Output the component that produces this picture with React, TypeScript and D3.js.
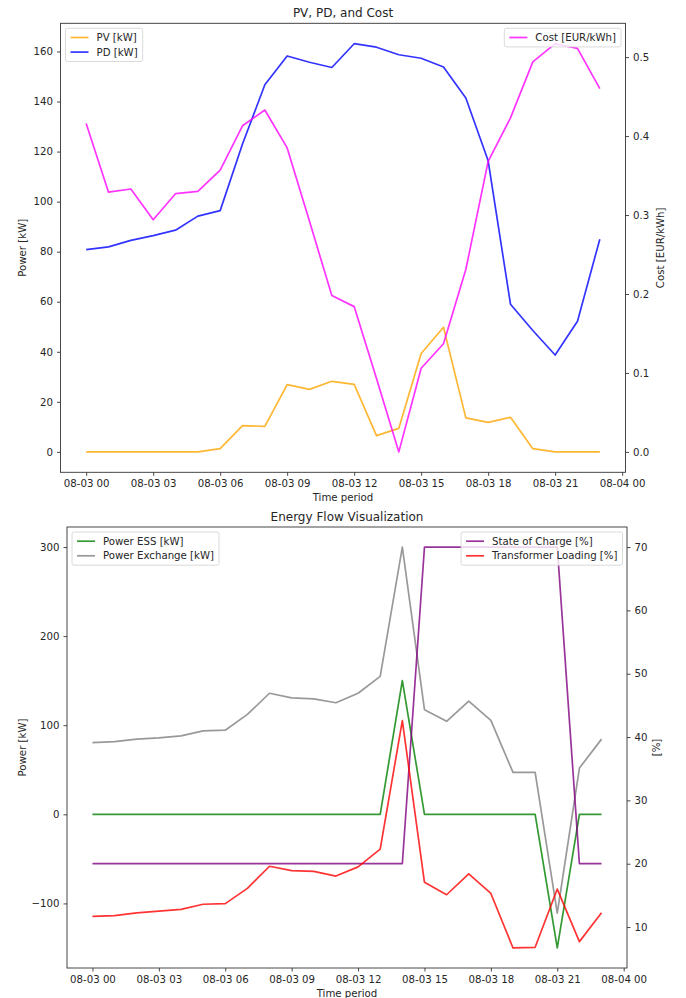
import React, { useRef, useEffect } from "react";
import * as d3 from "d3";

// hour index 0..23 on 08-03
const hours = [0, 1, 2, 3, 4, 5, 6, 7, 8, 9, 10, 11, 12, 13, 14, 15, 16, 17, 18, 19, 20, 21, 22, 23];
const xTicks = [0, 3, 6, 9, 12, 15, 18, 21, 24];
const xTickLabels = ["08-03 00", "08-03 03", "08-03 06", "08-03 09", "08-03 12", "08-03 15", "08-03 18", "08-03 21", "08-04 00"];

const pv = [0, 0, 0, 0, 0, 0, 1.3, 10.5, 10.2, 26.9, 25.0, 28.2, 27.0, 6.5, 9.4, 39.3, 49.8, 13.6, 11.8, 13.8, 1.3, 0, 0, 0];
const pd = [80.8, 81.9, 84.5, 86.4, 88.6, 94.2, 96.4, 123, 146.7, 158.2, 155.7, 153.6, 163.1, 161.7, 158.7, 157.3, 153.8, 141.4, 116.3, 59, 48.5, 38.7, 52.2, 85];
const cost = [0.416, 0.329, 0.333, 0.294, 0.327, 0.33, 0.357, 0.413, 0.433, 0.385, 0.292, 0.198, 0.184, 0.093, 0, 0.106, 0.137, 0.231, 0.368, 0.423, 0.494, 0.517, 0.511, 0.46];

const essPower = [0, 0, 0, 0, 0, 0, 0, 0, 0, 0, 0, 0, 0, 0, 150, 0, 0, 0, 0, 0, 0, -150, 0, 0];
const exchange = [80.4, 81.5, 84.4, 85.9, 88.1, 93.7, 94.4, 112.2, 135.9, 130.7, 129.6, 125.2, 135.9, 154.8, 300, 117.4, 104.4, 127, 105.5, 47, 47, -111, 51.9, 84.4];
const soc = [20, 20, 20, 20, 20, 20, 20, 20, 20, 20, 20, 20, 20, 20, 20, 70, 70, 70, 70, 70, 70, 70, 20, 20];
const loading = [11.7, 11.8, 12.25, 12.5, 12.8, 13.6, 13.7, 16.1, 19.6, 18.9, 18.8, 18.05, 19.5, 22.3, 42.6, 17.06, 15.1, 18.4, 15.3, 6.7, 6.8, 16.0, 7.7, 12.25];

const topLeftTicks = [0, 20, 40, 60, 80, 100, 120, 140, 160];
const topRightTicks = [0, 0.1, 0.2, 0.3, 0.4, 0.5];
const botLeftTicks = [-100, 0, 100, 200, 300];
const botRightTicks = [10, 20, 30, 40, 50, 60, 70];

const FONT = "DejaVu Sans, sans-serif";
const TEXT = "#262626";
const LW = 1.7;

// matplotlib-like autoscale with 5% margins
const padded = (arrs) => {
  const all = arrs.flat();
  const lo = d3.min(all), hi = d3.max(all);
  const m = (hi - lo) * 0.05;
  return [lo - m, hi + m];
};

function styleAxis(g) {
  g.select(".domain").remove();
  g.selectAll("line").attr("stroke", "#333").attr("stroke-width", 0.9);
  g.selectAll("text").attr("fill", TEXT).style("font-family", FONT).style("font-size", "10.2px");
}

function drawLegend(g, entries, anchor, box) {
  const lg = g.append("g");
  const bg = lg.append("rect").attr("rx", 2).attr("fill", "white").attr("fill-opacity", 0.8)
    .attr("stroke", "#d0d0d0").attr("stroke-width", 0.8);
  let maxW = 0;
  entries.forEach((e, i) => {
    const cy = 9.2 + i * 14.6;
    lg.append("line").attr("x1", 5).attr("x2", 23).attr("y1", cy).attr("y2", cy)
      .attr("stroke", e.color).attr("stroke-width", LW).attr("stroke-opacity", 0.8);
    const t = lg.append("text").attr("x", 31).attr("y", cy).attr("dy", "0.35em")
      .attr("fill", TEXT).style("font-family", FONT).style("font-size", "10.2px").text(e.label);
    maxW = Math.max(maxW, t.node().getComputedTextLength());
  });
  const w = 31 + maxW + 5;
  const h = 4 + entries.length * 14.6;
  bg.attr("width", w).attr("height", h);
  const x = anchor === "left" ? box.x0 + 5 : box.x1 - 4.5 - w;
  lg.attr("transform", `translate(${x}, ${box.y0 + 5})`);
}

function drawPanel(svg, p) {
  const { box } = p;
  const g = svg.append("g");
  const x = d3.scaleLinear().domain([-1.15, 24.15]).range([box.x0, box.x1]);
  const yL = d3.scaleLinear().domain(padded(p.left.map((s) => s.values))).range([box.y1, box.y0]);
  const yR = d3.scaleLinear().domain(padded(p.right.map((s) => s.values))).range([box.y1, box.y0]);

  g.append("text").attr("x", (box.x0 + box.x1) / 2).attr("y", box.y0 - 6.5).attr("text-anchor", "middle")
    .attr("fill", TEXT).style("font-family", FONT).style("font-size", "12px").text(p.title);

  const line = (yScale) => d3.line().x((d, i) => x(hours[i])).y((d) => yScale(d));

  p.left.forEach((s) => {
    g.append("path").datum(s.values).attr("d", line(yL)).attr("fill", "none")
      .attr("stroke", s.color).attr("stroke-width", LW).attr("stroke-opacity", 0.8)
      .attr("stroke-linejoin", "round");
  });
  drawLegend(g, p.left, "left", box);
  p.right.forEach((s) => {
    g.append("path").datum(s.values).attr("d", line(yR)).attr("fill", "none")
      .attr("stroke", s.color).attr("stroke-width", LW).attr("stroke-opacity", 0.8)
      .attr("stroke-linejoin", "round");
  });
  drawLegend(g, p.right, "right", box);

  // spines
  g.append("rect").attr("x", box.x0).attr("y", box.y0).attr("width", box.x1 - box.x0)
    .attr("height", box.y1 - box.y0).attr("fill", "none").attr("stroke", "#333").attr("stroke-width", 0.9);

  g.append("g").attr("transform", `translate(0, ${box.y1})`)
    .call(d3.axisBottom(x).tickValues(xTicks).tickSize(3.5).tickPadding(4)
      .tickFormat((d, i) => xTickLabels[i]))
    .call(styleAxis);

  g.append("g").attr("transform", `translate(${box.x0}, 0)`)
    .call(d3.axisLeft(yL).tickValues(p.leftTicks).tickSize(3.5).tickPadding(4)
      .tickFormat((d) => (d < 0 ? "\u2212" + Math.abs(d) : String(d))))
    .call(styleAxis);

  g.append("g").attr("transform", `translate(${box.x1}, 0)`)
    .call(d3.axisRight(yR).tickValues(p.rightTicks).tickSize(3.5).tickPadding(4).tickFormat(p.rightFormat))
    .call(styleAxis);

  const yc = (box.y0 + box.y1) / 2;
  g.append("text").attr("transform", `translate(${p.leftLabelX}, ${yc}) rotate(-90)`)
    .attr("text-anchor", "middle").attr("dy", "0.35em").attr("fill", TEXT)
    .style("font-family", FONT).style("font-size", "10.2px").text(p.leftLabel);
  g.append("text").attr("transform", `translate(${p.rightLabelX}, ${yc}) rotate(-90)`)
    .attr("text-anchor", "middle").attr("dy", "0.35em").attr("fill", TEXT)
    .style("font-family", FONT).style("font-size", "10.2px").text(p.rightLabel);
  g.append("text").attr("x", (box.x0 + box.x1) / 2).attr("y", box.y1 + 29).attr("text-anchor", "middle")
    .attr("fill", TEXT).style("font-family", FONT).style("font-size", "10.2px").text("Time period");
}

const App = () => {
  const svgRef = useRef(null);

  useEffect(() => {
    document.body.style.margin = "0";
    const svg = d3.select(svgRef.current);
    svg.selectAll("*").remove();

    drawPanel(svg, {
      title: "PV, PD, and Cost",
      box: { x0: 60.5, x1: 625.5, y0: 23.3, y1: 472.3 },
      left: [
        { label: "PV [kW]", color: "orange", values: pv },
        { label: "PD [kW]", color: "blue", values: pd },
      ],
      right: [{ label: "Cost [EUR/kWh]", color: "magenta", values: cost }],
      leftTicks: topLeftTicks,
      rightTicks: topRightTicks,
      rightFormat: d3.format(".1f"),
      leftLabel: "Power [kW]",
      rightLabel: "Cost [EUR/kWh]",
      leftLabelX: 22,
      rightLabelX: 660,
    });

    drawPanel(svg, {
      title: "Energy Flow Visualization",
      box: { x0: 67, x1: 627, y0: 527, y1: 968 },
      left: [
        { label: "Power ESS [kW]", color: "green", values: essPower },
        { label: "Power Exchange [kW]", color: "gray", values: exchange },
      ],
      right: [
        { label: "State of Charge [%]", color: "purple", values: soc },
        { label: "Transformer Loading [%]", color: "red", values: loading },
      ],
      leftTicks: botLeftTicks,
      rightTicks: botRightTicks,
      rightFormat: (d) => String(d),
      leftLabel: "Power [kW]",
      rightLabel: "[%]",
      leftLabelX: 22,
      rightLabelX: 656,
    });
  }, []);

  return <svg ref={svgRef} width={686} height={998} style={{ display: "block", background: "white" }} />;
};

export default App;
